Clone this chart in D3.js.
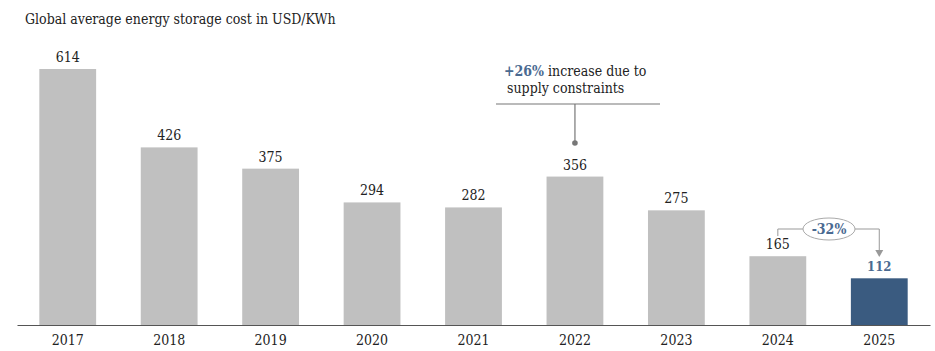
<!DOCTYPE html>
<html>
<head>
<meta charset="utf-8">
<script src="https://cdn.jsdelivr.net/npm/d3@7"></script>
<style>
  html, body { margin: 0; padding: 0; background: #fff; }
  svg { display: block; font-family: "DejaVu Serif", "Liberation Serif", serif; font-stretch: condensed; }
  svg text { font-stretch: condensed; }
</style>
</head>
<body>
<svg id="chart" width="935" height="351"></svg>
<script>
// Storage cost per year (USD/KWh)
const years = ["2017", "2018", "2019", "2020", "2021", "2022", "2023", "2024", "2025"];
const costs = [614, 426, 375, 294, 282, 356, 275, 165, 112];
const highlightYear = "2025";

const svg = d3.select("#chart");
const baseY = 325;
const serif = "'DejaVu Serif', 'Liberation Serif', serif";

const x = d3.scaleBand()
  .domain(years)
  .range([17, 930])
  .paddingInner(0.44)
  .paddingOuter(0.22);

const y = d3.scaleLinear()
  .domain([0, 614])
  .range([baseY, 69]);

const grey = "#c0c0c0";
const navy = "#3a5b80";
const accent = "#4a6a91";

// Title
svg.append("text")
  .attr("x", 25).attr("y", 24)
  .attr("font-size", 14)
  .attr("fill", "#222")
  .text("Global average energy storage cost in USD/KWh");

// Bars
svg.selectAll("rect.bar")
  .data(years)
  .join("rect")
  .attr("class", "bar")
  .attr("x", d => x(d))
  .attr("width", x.bandwidth())
  .attr("y", (d, i) => y(costs[i]))
  .attr("height", (d, i) => baseY - y(costs[i]))
  .attr("fill", d => d === highlightYear ? navy : grey);

// Value labels
svg.selectAll("text.val")
  .data(years)
  .join("text")
  .attr("class", "val")
  .attr("x", d => x(d) + x.bandwidth() / 2)
  .attr("y", (d, i) => y(costs[i]) - 7)
  .attr("text-anchor", "middle")
  .attr("font-size", d => d === highlightYear ? 13 : 14)
  .attr("font-weight", d => d === highlightYear ? "bold" : "normal")
  .attr("fill", d => d === highlightYear ? accent : "#222")
  .text((d, i) => costs[i]);

// Baseline axis
const axis = d3.axisBottom(x).tickSize(0).tickPadding(10);
const gAxis = svg.append("g")
  .attr("transform", `translate(0,${baseY})`)
  .call(axis);
gAxis.select(".domain").attr("stroke", "#555").attr("stroke-width", 1.2);
gAxis.selectAll("text")
  .attr("font-family", serif)
  .attr("font-size", 14)
  .attr("fill", "#222");

// 2022 callout
const cx22 = x("2022") + x.bandwidth() / 2;
const ann = svg.append("g");
const t1 = ann.append("text")
  .attr("x", 504).attr("y", 76)
  .attr("font-size", 14).attr("fill", "#222");
t1.append("tspan").attr("font-weight", "bold").attr("fill", accent).text("+26%");
t1.append("tspan").text(" increase due to");
ann.append("text")
  .attr("x", 507).attr("y", 93)
  .attr("font-size", 14).attr("fill", "#222")
  .text("supply constraints");
ann.append("line")
  .attr("x1", 496).attr("x2", 660)
  .attr("y1", 104).attr("y2", 104)
  .attr("stroke", "#777").attr("stroke-width", 1.2);
ann.append("line")
  .attr("x1", cx22).attr("x2", cx22)
  .attr("y1", 104).attr("y2", 142)
  .attr("stroke", "#777").attr("stroke-width", 1.2);
ann.append("circle")
  .attr("cx", cx22).attr("cy", 143).attr("r", 2.8)
  .attr("fill", "#777");

// 2024 -> 2025 change callout
const cx24 = x("2024") + x.bandwidth() / 2;
const cx25 = x("2025") + x.bandwidth() / 2;
const ey = 229, ecx = 829, erx = 26, ery = 11;
const chg = svg.append("g");
chg.append("path")
  .attr("d", `M${cx24},236 V${ey} H${ecx - erx}`)
  .attr("fill", "none").attr("stroke", "#999").attr("stroke-width", 1);
chg.append("path")
  .attr("d", `M${ecx + erx},${ey} H${cx25} V250`)
  .attr("fill", "none").attr("stroke", "#999").attr("stroke-width", 1);
chg.append("path")
  .attr("d", `M${cx25 - 4},250 L${cx25 + 4},250 L${cx25},257 Z`)
  .attr("fill", "#999");
chg.append("ellipse")
  .attr("cx", ecx).attr("cy", ey).attr("rx", erx).attr("ry", ery)
  .attr("fill", "#fff").attr("stroke", "#aaa").attr("stroke-width", 1);
chg.append("text")
  .attr("x", ecx).attr("y", ey + 5)
  .attr("text-anchor", "middle")
  .attr("font-size", 14).attr("font-weight", "bold")
  .attr("fill", accent)
  .text("-32%");
</script>
</body>
</html>
